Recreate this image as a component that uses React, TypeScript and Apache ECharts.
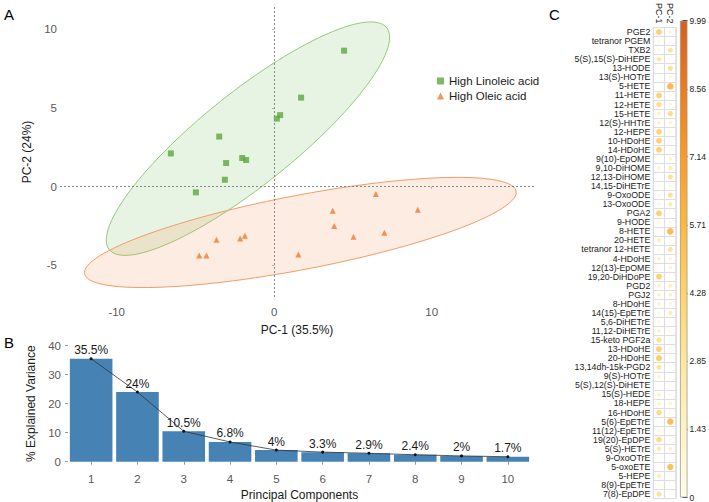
import React, { useEffect, useRef } from "react";
import * as echarts from "echarts";

// ---------- Panel A: PCA scores ----------
const LINOLEIC_X = [4.44, 1.71, 0.38, 0.17, -3.49, -6.56, -2.03, -1.78, -3.05, -3.13, -4.97];
const LINOLEIC_Y = [8.63, 5.65, 4.54, 4.32, 3.18, 2.11, 1.82, 1.69, 1.5, 0.44, -0.36];
const OLEIC_X = [6.46, 3.72, 9.12, 3.81, 7.0, 5.04, -3.66, -1.86, -2.16, -4.76, -4.3, 1.54];
const OLEIC_Y = [-0.46, -1.52, -1.46, -2.49, -2.93, -3.18, -3.37, -3.12, -3.29, -4.37, -4.37, -4.3];
const GROUP_NAMES = ["High Linoleic acid", "High Oleic acid"];
const PCA_X_STEP = 10;
const PCA_Y_STEP = 5;
const ELLIPSE_LEVEL = 0.95;

// ---------- Panel B: scree ----------
const COMPONENTS = ["1", "2", "3", "4", "5", "6", "7", "8", "9", "10"];
const EXPLAINED = [35.5, 24, 10.5, 6.8, 4, 3.3, 2.9, 2.4, 2, 1.7];

// ---------- Panel C: loadings ----------
const METABOLITES = [
  "PGE2", "tetranor PGEM", "TXB2", "5(S),15(S)-DiHEPE", "13-HODE", "13(S)-HOTrE", "5-HETE",
  "11-HETE", "12-HETE", "15-HETE", "12(S)-HHTrE", "12-HEPE", "10-HDoHE", "14-HDoHE",
  "9(10)-EpOME", "9,10-DiHOME", "12,13-DiHOME", "14,15-DiHETrE", "9-OxoODE", "13-OxoODE",
  "PGA2", "9-HODE", "8-HETE", "20-HETE", "tetranor 12-HETE", "4-HDoHE", "12(13)-EpOME",
  "19,20-DiHDoPE", "PGD2", "PGJ2", "8-HDoHE", "14(15)-EpETrE", "5,6-DiHETrE", "11,12-DiHETrE",
  "15-keto PGF2a", "13-HDoHE", "20-HDoHE", "13,14dh-15k-PGD2", "9(S)-HOTrE", "5(S),12(S)-DiHETE",
  "15(S)-HEDE", "18-HEPE", "16-HDoHE", "5(6)-EpETrE", "11(12)-EpETrE", "19(20)-EpDPE",
  "5(S)-HETrE", "9-OxoOTrE", "5-oxoETE", "5-HEPE", "8(9)-EpETrE", "7(8)-EpDPE",
];
const LOADING_PC1 = [
  5.0, 1.1, 1.1, 3.2, 0.7, 0.55, 0.25, 5.0, 4.2, 2.0, 1.8, 4.8, 5.0, 5.0, 0.25, 1.6, 0.25, 0.7,
  1.1, 1.0, 5.0, 1.1, 0.25, 2.4, 0.85, 2.0, 0.55, 5.0, 2.0, 2.0, 1.8, 0.85, 0.85, 2.0, 3.8, 5.0,
  5.4, 3.6, 1.8, 0.4, 1.8, 1.6, 4.4, 0.15, 1.2, 4.4, 2.9, 0.4, 0.15, 2.7, 0.85, 3.8,
];
const LOADING_PC2 = [
  1.4, 0.55, 3.6, 0.4, 3.8, 1.2, 6.5, 0.85, 1.4, 4.2, 1.8, 0.85, 0.4, 0.25, 1.8, 2.7, 3.8, 1.1,
  3.8, 2.9, 0.25, 1.2, 6.5, 0.25, 3.6, 1.6, 1.6, 0.4, 2.4, 2.0, 1.6, 2.7, 0.25, 0.7, 0.85, 0.85,
  0.55, 0.4, 0.15, 0.55, 0.85, 1.6, 0.7, 6.2, 0.25, 0.85, 2.0, 0.4, 6.0, 0.25, 0.25, 0.7,
];
const LOADING_COLUMNS = ["PC-1", "PC-2"];
const COLORBAR_TICKS = [0, 1.43, 2.85, 4.28, 5.71, 7.14, 8.56, 9.99];
const COLOR_RAMP = ["#FFFCE6", "#FFF3C4", "#FFE79C", "#FFD468", "#FFB83C", "#FF9A22", "#EE7B1A", "#D65F1A"];

const FONT = "Liberation Sans, Arial, Helvetica, sans-serif";

// F quantile for dfn = 2 (closed form)
function qf2(p: number, dfd: number) {
  return (dfd / 2) * (Math.pow(1 - p, -2 / dfd) - 1);
}

function ellipse(xs: number[], ys: number[], level: number): number[][] {
  const n = xs.length;
  const mx = xs.reduce((a, b) => a + b, 0) / n;
  const my = ys.reduce((a, b) => a + b, 0) / n;
  let sxx = 0, syy = 0, sxy = 0;
  for (let i = 0; i < n; i++) {
    sxx += (xs[i] - mx) ** 2;
    syy += (ys[i] - my) ** 2;
    sxy += (xs[i] - mx) * (ys[i] - my);
  }
  sxx /= n - 1; syy /= n - 1; sxy /= n - 1;
  const r = Math.sqrt(2 * qf2(level, n - 1));
  const a = Math.sqrt(sxx);
  const b = sxy / a;
  const c = Math.sqrt(Math.max(syy - b * b, 0));
  const pts: number[][] = [];
  for (let i = 0; i <= 120; i++) {
    const t = (2 * Math.PI * i) / 120;
    pts.push([mx + r * a * Math.cos(t), my + r * (b * Math.cos(t) + c * Math.sin(t))]);
  }
  return pts;
}

function ellipseSeries(xs: number[], ys: number[], fill: string, stroke: string) {
  const pts = ellipse(xs, ys, ELLIPSE_LEVEL);
  return {
    type: "custom",
    xAxisIndex: 0,
    yAxisIndex: 0,
    silent: true,
    z: 1,
    data: [[0, 0]],
    renderItem: (_p: any, api: any) => ({
      type: "polygon",
      shape: { points: pts.map((p) => api.coord(p)) },
      style: { fill, stroke, lineWidth: 1 },
    }),
  };
}

export default function App() {
  const ref = useRef<HTMLDivElement>(null);
  useEffect(() => {
    if (!ref.current) return;
    const chart = echarts.init(ref.current, undefined, { renderer: "svg" });

    const tickLabel = { color: "#595959", fontSize: 11.5, fontFamily: FONT };
    const axisName = { color: "#1a1a1a", fontSize: 12, fontFamily: FONT };

    const loadingData: number[][] = [];
    METABOLITES.forEach((_, i) => {
      loadingData.push([0, i, LOADING_PC1[i]]);
      loadingData.push([1, i, LOADING_PC2[i]]);
    });

    const gradStops = COLOR_RAMP.map((c, i) => ({ offset: 1 - i / (COLOR_RAMP.length - 1), color: c })).reverse();

    const option: any = {
      animation: false,
      textStyle: { fontFamily: FONT },
      grid: [
        { left: 60, right: 175, top: 7, bottom: 205 },
        { left: 68, right: 178, top: 345.7, bottom: 40.3 },
        { left: 653.3, right: 33, top: 22.1, bottom: 3.4, show: true, borderColor: "#c8c8c8", borderWidth: 1 },
        { left: 680, right: 18, top: 20.7, bottom: 3.4 },
      ],
      legend: {
        data: GROUP_NAMES,
        orient: "vertical",
        left: 437,
        top: 75,
        padding: 0,
        itemWidth: 7,
        itemHeight: 7,
        itemGap: 3,
        textStyle: { fontSize: 11.5, color: "#1a1a1a", fontFamily: FONT },
      },
      xAxis: [
        {
          gridIndex: 0, type: "value", min: -13.6, max: 16.5,
          minInterval: PCA_X_STEP, maxInterval: PCA_X_STEP,
          name: "PC-1 (35.5%)", nameLocation: "middle", nameGap: 27, nameTextStyle: axisName,
          axisLine: { show: false }, splitLine: { show: false },
          axisTick: { show: true, length: 2, lineStyle: { color: "#aaa" } },
          axisLabel: { ...tickLabel, margin: 9, showMinLabel: false, showMaxLabel: false },
        },
        {
          gridIndex: 1, type: "category", data: COMPONENTS,
          name: "Principal Components", nameLocation: "middle", nameGap: 27, nameTextStyle: axisName,
          axisLine: { show: false },
          axisTick: { show: true, alignWithLabel: true, length: 3, lineStyle: { color: "#999" } },
          axisLabel: { ...tickLabel, margin: 11 },
        },
        {
          gridIndex: 2, type: "category", data: LOADING_COLUMNS, position: "top",
          axisLine: { show: false }, axisTick: { show: false },
          axisLabel: { interval: 0, rotate: 90, fontSize: 9, color: "#1a1a1a", margin: 4, fontFamily: FONT, hideOverlap: false },
          splitLine: { show: true, interval: 0, lineStyle: { color: "#dedede", width: 1 } },
        },
        {
          gridIndex: 3, type: "category", data: [""], show: false,
        },
      ],
      yAxis: [
        {
          gridIndex: 0, type: "value", min: -7, max: 11.4,
          minInterval: PCA_Y_STEP, maxInterval: PCA_Y_STEP,
          name: "PC-2 (24%)", nameLocation: "middle", nameGap: 25, nameTextStyle: axisName,
          axisLine: { show: false }, splitLine: { show: false },
          axisTick: { show: true, length: 2, lineStyle: { color: "#aaa" } },
          axisLabel: { ...tickLabel, margin: 3, showMinLabel: false, showMaxLabel: false },
        },
        {
          gridIndex: 1, type: "value", min: 0, max: 40, interval: 10,
          name: "% Explained Variance", nameLocation: "middle", nameGap: 25, nameTextStyle: axisName,
          axisLine: { show: false }, splitLine: { show: false },
          axisTick: { show: true, length: 3, lineStyle: { color: "#999" } },
          axisLabel: { ...tickLabel, margin: 7 },
        },
        {
          gridIndex: 2, type: "category", data: METABOLITES, inverse: true,
          axisLine: { show: false }, axisTick: { show: false },
          axisLabel: { interval: 0, fontSize: 8.8, color: "#1a1a1a", margin: 3, fontFamily: FONT, hideOverlap: false },
          splitLine: { show: true, interval: 0, lineStyle: { color: "#dedede", width: 1 } },
        },
        {
          gridIndex: 3, type: "value", min: 0, max: 9.99, position: "right",
          axisLine: { show: false }, splitLine: { show: false },
          axisTick: { show: true, inside: true, length: 5, lineStyle: { color: "#333" }, customValues: COLORBAR_TICKS },
          axisLabel: {
            fontSize: 8.5, color: "#1a1a1a", margin: 2, fontFamily: FONT,
            customValues: COLORBAR_TICKS, formatter: (v: number) => String(v),
          },
        },
      ],
      visualMap: [
        {
          type: "continuous", show: false, seriesIndex: 6, dimension: 2,
          min: 0, max: 9.99, inRange: { color: COLOR_RAMP },
        },
      ],
      series: [
        ellipseSeries(LINOLEIC_X, LINOLEIC_Y, "rgba(120,190,90,0.17)", "#93cb7b"),
        ellipseSeries(OLEIC_X, OLEIC_Y, "rgba(245,140,80,0.17)", "#f29c68"),
        {
          name: GROUP_NAMES[0], type: "scatter", xAxisIndex: 0, yAxisIndex: 0, z: 3,
          symbol: "rect", symbolSize: 6,
          itemStyle: { color: "#5BA83C" },
          data: LINOLEIC_X.map((x, i) => [x, LINOLEIC_Y[i]]),
          markLine: {
            silent: true, symbol: "none", label: { show: false },
            lineStyle: { color: "#888", type: [2, 2], width: 1 },
            data: [{ xAxis: 0 }, { yAxis: 0 }],
          },
        },
        {
          name: GROUP_NAMES[1], type: "scatter", xAxisIndex: 0, yAxisIndex: 0, z: 3,
          symbol: "triangle", symbolSize: 6,
          itemStyle: { color: "#EF7B2C" },
          data: OLEIC_X.map((x, i) => [x, OLEIC_Y[i]]),
        },
        {
          type: "bar", xAxisIndex: 1, yAxisIndex: 1, data: EXPLAINED,
          barCategoryGap: "8%", itemStyle: { color: "#4682B4" },
        },
        {
          type: "line", xAxisIndex: 1, yAxisIndex: 1, data: EXPLAINED, z: 4,
          symbol: "circle", symbolSize: 3,
          itemStyle: { color: "#111" },
          lineStyle: { color: "#333", width: 0.8 },
          label: {
            show: true, position: "top", distance: 1, fontSize: 12, color: "#1a1a1a", fontFamily: FONT,
            formatter: (p: any) => `${p.value}%`,
          },
        },
        {
          type: "scatter", xAxisIndex: 2, yAxisIndex: 2, data: loadingData,
          symbol: "circle",
          symbolSize: (d: number[]) => 2.6 * Math.sqrt(d[2]),
        },
        {
          type: "bar", xAxisIndex: 3, yAxisIndex: 3, data: [9.99], barWidth: "100%",
          itemStyle: {
            color: new echarts.graphic.LinearGradient(0, 0, 0, 1, gradStops),
            borderColor: "#999", borderWidth: 0.8,
          },
        },
      ],
      graphic: [
        { type: "text", left: 4, top: 7, style: { text: "A", fontSize: 15, fill: "#000", fontFamily: FONT } },
        { type: "text", left: 4, top: 335, style: { text: "B", fontSize: 15, fill: "#000", fontFamily: FONT } },
        { type: "text", left: 549, top: 7, style: { text: "C", fontSize: 15, fill: "#000", fontFamily: FONT } },
      ],
    };

    chart.setOption(option);
    return () => chart.dispose();
  }, []);

  return (
    <div
      ref={ref}
      style={{ position: "absolute", left: 0, top: 0, width: 709, height: 502, background: "#fff" }}
    />
  );
}
